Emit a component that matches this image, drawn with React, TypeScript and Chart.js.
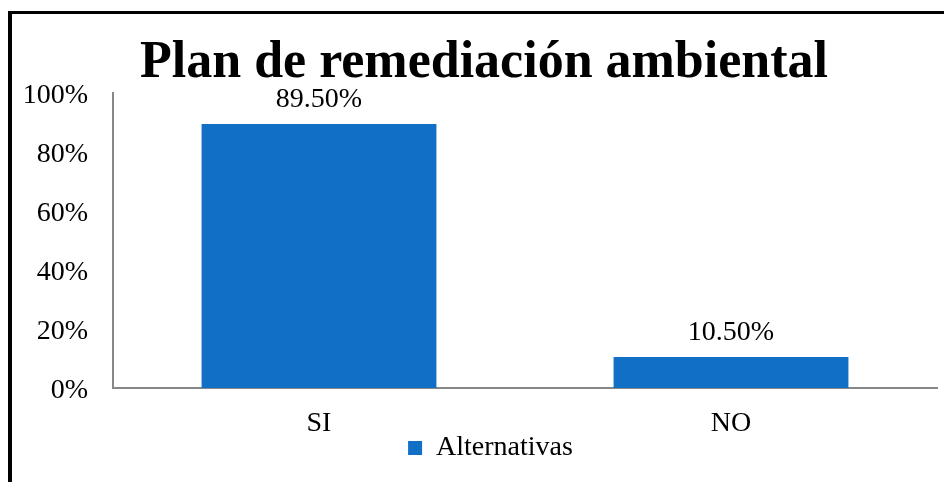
import React, { useEffect, useRef } from 'react';
import { Chart, registerables } from 'chart.js';

Chart.register(...registerables);

const chartTitle = 'Plan de remediación ambiental';
const categories = ['SI', 'NO'];
const seriesName = 'Alternativas';
const values = [89.5, 10.5];
const yTickValues = [0, 20, 40, 60, 80, 100];

const FONT = '"Liberation Serif", "Times New Roman", serif';
const BAR_COLOR = '#1170C6';
const AXIS_COLOR = '#878787';

const dataLabels = {
  id: 'dataLabels',
  afterDatasetsDraw(chart: any) {
    const ctx = chart.ctx;
    const meta = chart.getDatasetMeta(0);
    ctx.save();
    ctx.font = `28px ${FONT}`;
    ctx.fillStyle = '#000';
    ctx.textAlign = 'center';
    ctx.textBaseline = 'alphabetic';
    meta.data.forEach((bar: any, i: number) => {
      ctx.fillText(values[i].toFixed(2) + '%', bar.x, bar.y - 17);
    });
    ctx.restore();
  },
};

const titlePlugin = {
  id: 'offsetTitle',
  afterDraw(chart: any) {
    const ctx = chart.ctx;
    ctx.save();
    ctx.font = `bold 52px ${FONT}`;
    ctx.fillStyle = '#000';
    ctx.textAlign = 'center';
    ctx.textBaseline = 'alphabetic';
    ctx.fillText(chartTitle, 484, 77);
    ctx.restore();
  },
};

// let the y tick labels extend left of the layout padding without being clipped
const unclipYLabels = {
  id: 'unclipYLabels',
  afterLayout(chart: any) {
    const y = chart.scales.y;
    if (y) y.left = 0;
  },
};

export default function App() {
  const canvasRef = useRef<HTMLCanvasElement | null>(null);

  useEffect(() => {
    if (!canvasRef.current) return;
    const chart = new Chart(canvasRef.current, {
      type: 'bar',
      data: {
        labels: categories,
        datasets: [
          {
            label: seriesName,
            data: values,
            backgroundColor: BAR_COLOR,
            borderWidth: 0,
            barPercentage: 0.57,
            categoryPercentage: 1,
          },
        ],
      },
      options: {
        responsive: false,
        animation: false,
        events: [],
        devicePixelRatio: 1,
        layout: { padding: { left: 44, right: 7, top: 93, bottom: 10 } },
        plugins: {
          title: { display: false },
          legend: {
            display: true,
            position: 'bottom',
            labels: {
              color: '#000',
              font: { family: FONT, size: 28 },
              boxWidth: 14,
              boxHeight: 14,
              padding: 2,
            },
          },
          tooltip: { enabled: false },
        },
        scales: {
          x: {
            grid: { display: false, drawTicks: false },
            border: { display: true, color: AXIS_COLOR, width: 2 },
            ticks: { color: '#000', font: { family: FONT, size: 28 }, padding: 19 },
            afterFit(scale: any) {
              scale.height = 44;
            },
          },
          y: {
            min: 0,
            max: 100,
            grid: { display: false, drawTicks: false },
            border: { display: true, color: AXIS_COLOR, width: 2 },
            afterBuildTicks(scale: any) {
              scale.ticks = yTickValues.map((v) => ({ value: v }));
            },
            ticks: {
              color: '#000',
              font: { family: FONT, size: 28 },
              padding: 25,
              labelOffset: 3,
              callback: (v: any) => `${v}%`,
            },
            afterFit(scale: any) {
              scale.width = 69;
            },
          },
        },
      },
      plugins: [dataLabels, titlePlugin, unclipYLabels],
    });
    return () => chart.destroy();
  }, []);

  return (
    <div
      style={{
        position: 'fixed',
        left: 0,
        top: 0,
        width: 944,
        height: 482,
        background: '#fff',
        overflow: 'hidden',
      }}
    >
      <div
        style={{
          position: 'absolute',
          left: 8,
          top: 11,
          width: 2000,
          height: 2000,
          borderLeft: '4px solid #000',
          borderTop: '3px solid #000',
        }}
      />
      <canvas
        ref={canvasRef}
        width={944}
        height={482}
        style={{ position: 'absolute', left: 0, top: 0, width: 944, height: 482 }}
      />
    </div>
  );
}
